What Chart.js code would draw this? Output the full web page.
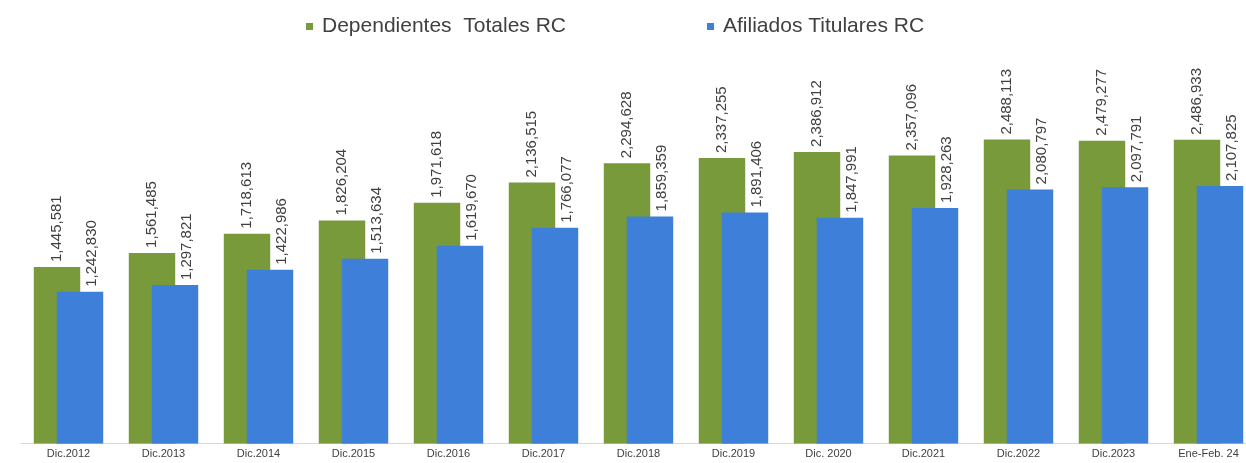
<!DOCTYPE html>
<html>
<head>
<meta charset="utf-8">
<script src="https://cdn.jsdelivr.net/npm/chart.js@4"></script>
<style>
  html, body { margin: 0; padding: 0; background: #fff; overflow: hidden; }
  #wrap { width: 1262px; height: 463px; }
</style>
</head>
<body>
<div id="wrap"><canvas id="afiliadosChart"></canvas></div>
<script>
const categories = ['Dic.2012', 'Dic.2013', 'Dic.2014', 'Dic.2015', 'Dic.2016', 'Dic.2017', 'Dic.2018',
    'Dic.2019', 'Dic. 2020', 'Dic.2021', 'Dic.2022', 'Dic.2023', 'Ene-Feb. 24'];
const dependientes = [1445581, 1561485, 1718613, 1826204, 1971618, 2136515, 2294628,
    2337255, 2386912, 2357096, 2488113, 2479277, 2486933];
const afiliados = [1242830, 1297821, 1422986, 1513634, 1619670, 1766077, 1859359,
    1891406, 1847991, 1928263, 2080797, 2097791, 2107825];

const FONT = '"Liberation Sans", Arial, sans-serif';
const GREEN = '#789A3A';
const BLUE = '#3D7FD9';

// chart.js paints the first dataset last; the blue bars have to sit on top
const blueOnTop = {
    id: 'blueOnTop',
    beforeDatasetDraw(chart, args) {
        if (args.index === 1) return false;
    },
    afterDatasetsDraw(chart) {
        const area = chart.chartArea;
        const ctx = chart.ctx;
        ctx.save();
        ctx.beginPath();
        ctx.rect(area.left, area.top, area.right - area.left, area.bottom - area.top);
        ctx.clip();
        chart.getDatasetMeta(1).controller.draw();
        ctx.restore();
    }
};

// numbers written upright above each bar
const valueLabels = {
    id: 'valueLabels',
    afterDatasetsDraw(chart) {
        const ctx = chart.ctx;
        ctx.save();
        ctx.font = '15px ' + FONT;
        ctx.fillStyle = '#404040';
        ctx.textAlign = 'left';
        ctx.textBaseline = 'middle';
        chart.data.datasets.forEach((ds, di) => {
            chart.getDatasetMeta(di).data.forEach((bar, i) => {
                const shift = di === 1 ? bar.width * 0.25 : 0;
                ctx.save();
                ctx.translate(bar.x + shift, bar.y - 5);
                ctx.rotate(-Math.PI / 2);
                ctx.fillText(ds.data[i].toLocaleString('en-US'), 0, 0);
                ctx.restore();
            });
        });
        ctx.restore();
    }
};

// legend spread out like the original
const spreadLegend = {
    id: 'spreadLegend',
    afterDraw(chart) {
        const ctx = chart.ctx;
        const starts = [306, 707];
        ctx.save();
        ctx.font = '21px ' + FONT;
        ctx.textBaseline = 'middle';
        chart.data.datasets.forEach((ds, i) => {
            ctx.fillStyle = ds.backgroundColor;
            ctx.fillRect(starts[i], 23, 7, 7);
            ctx.fillStyle = '#404040';
            ctx.fillText(ds.label, starts[i] + 16, 26);
        });
        ctx.restore();
    }
};

new Chart(document.getElementById('afiliadosChart').getContext('2d'), {
    type: 'bar',
    data: {
        labels: categories,
        datasets: [{
            label: 'Dependientes  Totales RC',
            data: dependientes,
            backgroundColor: GREEN,
            categoryPercentage: 0.484,
            barPercentage: 2.02
        }, {
            label: 'Afiliados Titulares RC',
            data: afiliados,
            backgroundColor: BLUE,
            categoryPercentage: 0.484,
            barPercentage: 2.02
        }]
    },
    options: {
        responsive: true,
        maintainAspectRatio: false,
        animation: false,
        layout: { padding: { left: 21, right: 6, top: 77, bottom: -2 } },
        plugins: {
            legend: { display: false },
            tooltip: { enabled: false }
        },
        scales: {
            x: {
                grid: { display: false, drawTicks: false },
                border: { color: '#D9D9D9', width: 1 },
                ticks: { color: '#404040', font: { size: 11, family: FONT }, padding: 4, maxRotation: 0, autoSkip: false }
            },
            y: {
                display: false,
                beginAtZero: true,
                min: 0,
                max: 3000000
            }
        }
    },
    plugins: [blueOnTop, valueLabels, spreadLegend]
});
</script>
</body>
</html>
